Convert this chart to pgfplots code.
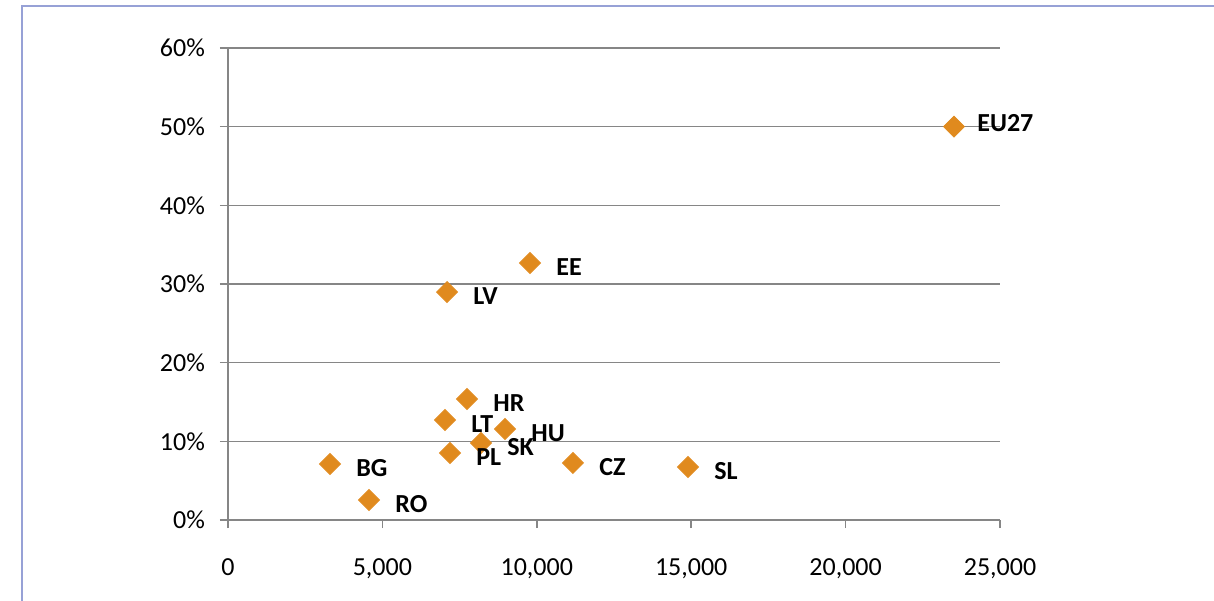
\documentclass[border=0pt]{standalone}
\usepackage{pgfplots}
\pgfplotsset{compat=1.18}
\usepackage{fontspec}
\setmainfont{Carlito}
\definecolor{mk}{HTML}{E08A1E}
\definecolor{gr}{HTML}{868686}
\definecolor{fr}{HTML}{97A1D6}
\begin{document}
\begin{tikzpicture}
\useasboundingbox (-114pt,-40pt) rectangle (493pt,260pt);
\draw[fr, line width=0.9pt] (-103pt,-45pt) -- (-103pt,257pt) -- (500pt,257pt);
\begin{axis}[
  at={(0,0)}, anchor=south west,
  scale only axis, width=386pt, height=236pt,
  xmin=0, xmax=25000, ymin=0, ymax=60,
  xtick={0,5000,...,25000}, ytick={0,10,...,60},
  axis x line*=bottom, axis y line*=left,
  axis line style={gr, line width=0.8pt, -},
  ymajorgrids, grid style={gr, line width=0.8pt},
  tick style={gr, line width=0.8pt},
  tick align=outside, major tick length=4pt,
  /pgf/number format/assume math mode=true,
  x tick label style={font=\fontsize{13}{15}\selectfont, /pgf/number format/1000 sep={,}, yshift=-12pt},
  y tick label style={font=\fontsize{13}{15}\selectfont, xshift=-4pt},
  yticklabel={\pgfmathprintnumber{\tick}\%},
  scaled x ticks=false,
  clip=false,
  nodes near coords,
  point meta=explicit symbolic,
  every node near coord/.style={font=\fontsize{13}{15}\selectfont\bfseries, anchor=west, inner sep=0pt, xshift=13pt, yshift=-2pt, text=black},
]
\addplot[only marks, mark=square*, mark size=3.7pt, mark options={rotate=45, fill=mk, draw=mk}] table[meta=label] {
x y label
9780 32.67 EE
7092 28.98 LV
7740 15.38 HR
7027 12.71 LT
8970 11.57 HU
8193 9.79 SK
7189 8.52 PL
3303 7.12 BG
4566 2.54 RO
11172 7.25 CZ
14896 6.74 SL
};
\addplot[only marks, mark=square*, mark size=3.7pt, mark options={rotate=45, fill=mk, draw=mk},
  every node near coord/.append style={xshift=-1.5pt, yshift=4pt}] table[meta=label] {
x y label
23510 50.0 EU27
};
\end{axis}
\end{tikzpicture}
\end{document}
